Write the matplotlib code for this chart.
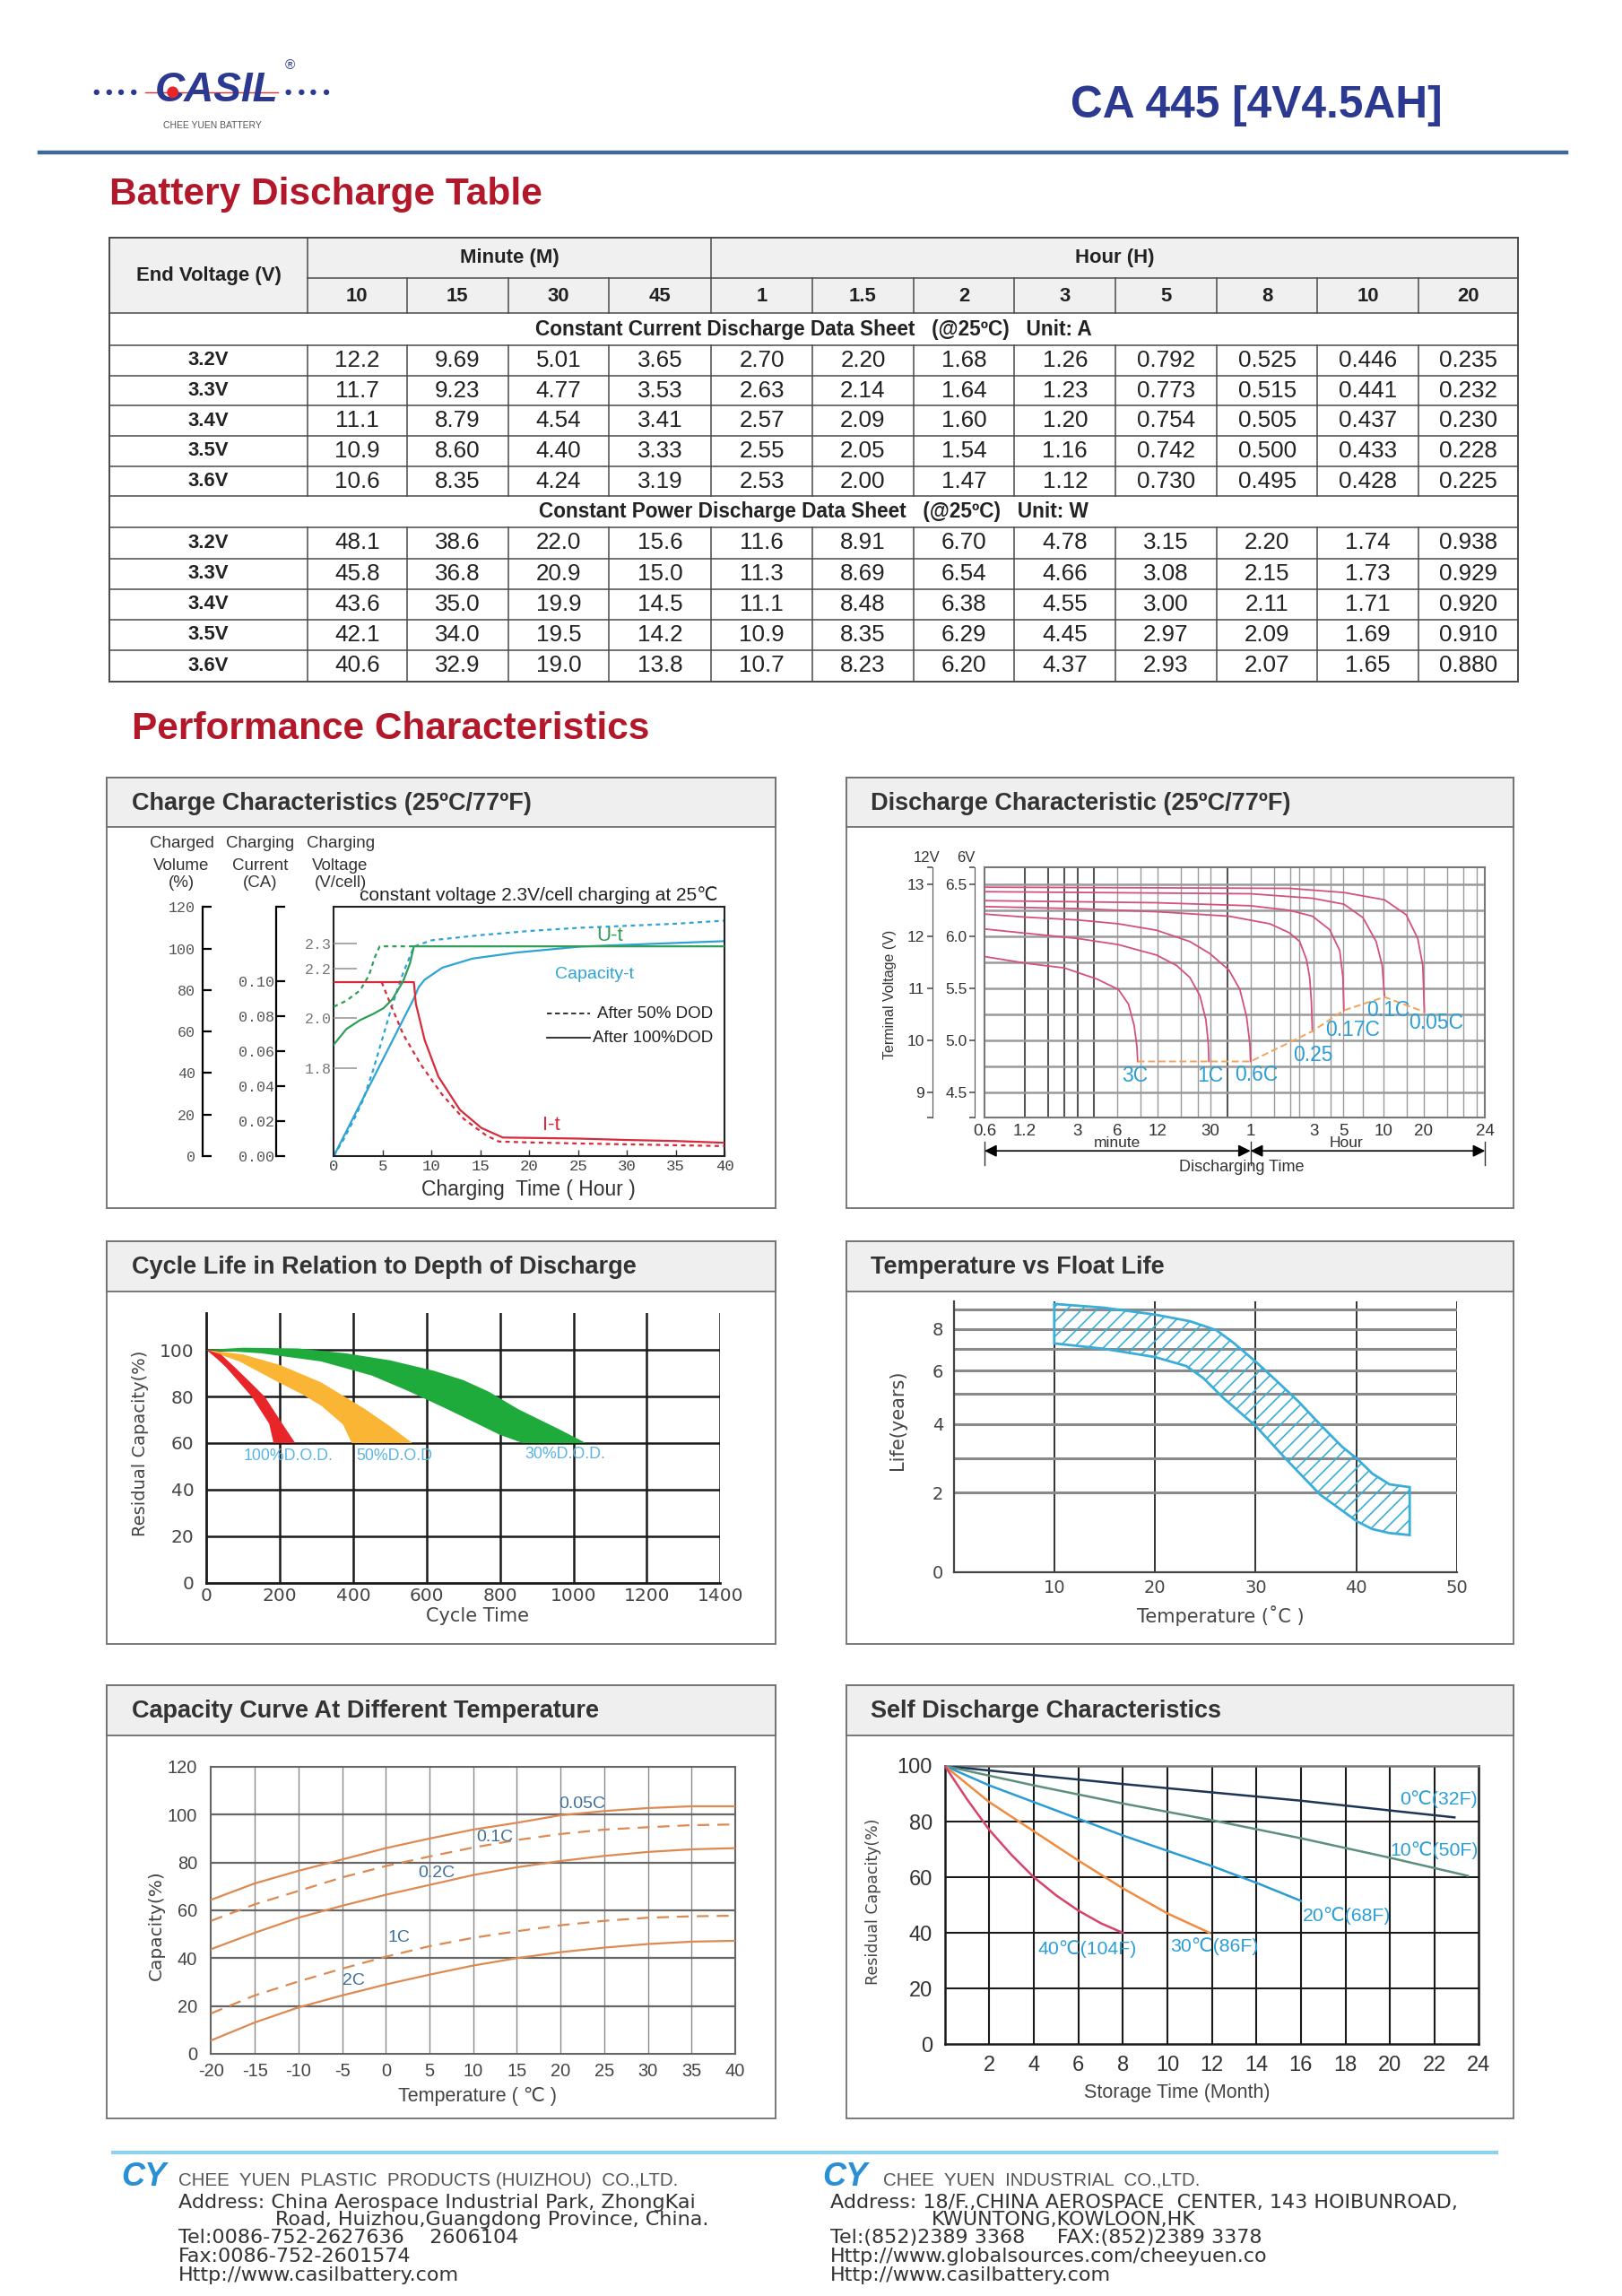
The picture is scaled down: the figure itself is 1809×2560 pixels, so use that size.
import numpy as np
import matplotlib
matplotlib.use('Agg')
import matplotlib.pyplot as plt
from matplotlib import font_manager
from matplotlib.patches import Rectangle, Circle
from matplotlib.ticker import NullLocator

# fonts
names = {f.name for f in font_manager.fontManager.ttflist}
NARROW = 'Liberation Sans Narrow' if 'Liberation Sans Narrow' in names else 'Liberation Sans'
NK = 1.0 if NARROW == 'Liberation Sans Narrow' else 0.85
SANS = ['Liberation Sans', 'DejaVu Sans']
NAR = [NARROW, 'DejaVu Sans']
MONO = ['Liberation Mono', 'DejaVu Sans Mono']
WIDE = ['DejaVu Sans']
plt.rcParams['font.family'] = SANS
plt.rcParams['hatch.linewidth'] = 1.2
plt.rcParams['axes.unicode_minus'] = False

# ---------------- data ----------------
model_name = 'CA 445 [4V4.5AH]'
end_voltages = ['3.2V', '3.3V', '3.4V', '3.5V', '3.6V']
minute_cols = ['10', '15', '30', '45']
hour_cols = ['1', '1.5', '2', '3', '5', '8', '10', '20']
cc_title = 'Constant Current Discharge Data Sheet   (@25ºC)   Unit: A'
cp_title = 'Constant Power Discharge Data Sheet   (@25ºC)   Unit: W'
cc_amps = [
    ['12.2', '9.69', '5.01', '3.65', '2.70', '2.20', '1.68', '1.26', '0.792', '0.525', '0.446', '0.235'],
    ['11.7', '9.23', '4.77', '3.53', '2.63', '2.14', '1.64', '1.23', '0.773', '0.515', '0.441', '0.232'],
    ['11.1', '8.79', '4.54', '3.41', '2.57', '2.09', '1.60', '1.20', '0.754', '0.505', '0.437', '0.230'],
    ['10.9', '8.60', '4.40', '3.33', '2.55', '2.05', '1.54', '1.16', '0.742', '0.500', '0.433', '0.228'],
    ['10.6', '8.35', '4.24', '3.19', '2.53', '2.00', '1.47', '1.12', '0.730', '0.495', '0.428', '0.225'],
]
cp_watts = [
    ['48.1', '38.6', '22.0', '15.6', '11.6', '8.91', '6.70', '4.78', '3.15', '2.20', '1.74', '0.938'],
    ['45.8', '36.8', '20.9', '15.0', '11.3', '8.69', '6.54', '4.66', '3.08', '2.15', '1.73', '0.929'],
    ['43.6', '35.0', '19.9', '14.5', '11.1', '8.48', '6.38', '4.55', '3.00', '2.11', '1.71', '0.920'],
    ['42.1', '34.0', '19.5', '14.2', '10.9', '8.35', '6.29', '4.45', '2.97', '2.09', '1.69', '0.910'],
    ['40.6', '32.9', '19.0', '13.8', '10.7', '8.23', '6.20', '4.37', '2.93', '2.07', '1.65', '0.880'],
]

# charge characteristics
chg_vol_ticks = [0, 20, 40, 60, 80, 100, 120]
chg_cur_ticks = [0.00, 0.02, 0.04, 0.06, 0.08, 0.10]
chg_volt_ticks = [1.8, 2.0, 2.2, 2.3]
cap100_h = [0, 8.2, 8.7, 9.3, 11.1, 14.2, 18.7, 25.3, 32, 40]
cap100 = [0, 76, 81.5, 85, 90.8, 95.2, 98.1, 101, 102.2, 103.6]
cap50_h = [0, 1, 2, 3, 4, 5, 6, 7, 8.2, 10, 15, 20, 25, 30, 35, 40]
cap50 = [0, 8, 17, 27, 41, 57, 73, 87, 101, 104, 106.5, 108.5, 110, 111, 112, 113.5]
cur100_h = [0, 8.2, 8.4, 9.3, 10.7, 12.9, 15.1, 17.3, 20, 25, 30, 35, 40]
cur100 = [0.0995, 0.0995, 0.0872, 0.0664, 0.0455, 0.0265, 0.0161, 0.0106, 0.0104, 0.0100, 0.0092, 0.0086, 0.0076]
cur50_h = [4.9, 5.8, 7.1, 8.9, 11.1, 13.3, 15.6, 16.9, 20, 25, 30, 35, 40]
cur50 = [0.0995, 0.087, 0.0697, 0.0524, 0.0351, 0.0213, 0.0118, 0.0083, 0.0078, 0.0072, 0.0067, 0.0062, 0.0057]
volt100_h = [0, 1.3, 2.7, 4, 5.1, 6, 7.1, 7.8, 8.2, 40]
volt100 = [1.894, 1.957, 1.993, 2.017, 2.041, 2.077, 2.149, 2.222, 2.29, 2.29]
volt50_h = [0, 1.3, 2.7, 3.6, 4.2, 4.7, 8.2]
volt50 = [2.047, 2.071, 2.113, 2.173, 2.246, 2.29, 2.29]

# discharge characteristic (time in minutes, volts per 6V)
dis_labels = ['3C', '1C', '0.6C', '0.25', '0.17C', '0.1C', '0.05C']
dis_min = [
    [0.6, 1.22, 2.39, 4.2, 6.1, 7.25, 8.0, 8.4, 8.5],
    [0.6, 1.22, 3.06, 6.1, 11.8, 16.7, 21.0, 25.0, 27.7, 28.9, 29.2],
    [0.6, 1.22, 3.06, 6.1, 11.8, 21.0, 29.7, 41.3, 49.9, 56.0, 59.3, 60.0],
    [0.6, 3.06, 11.8, 41.3, 83.8, 117, 140.6, 158, 167, 172, 175],
    [0.6, 11.8, 60, 117, 175, 236, 281, 297, 302],
    [0.6, 60, 175, 302, 420, 528, 586, 610],
    [0.6, 117, 302, 610, 887, 1084, 1183, 1216],
]
dis_volt = [
    [5.806, 5.742, 5.697, 5.59, 5.49, 5.35, 5.146, 4.945, 4.80],
    [6.07, 6.03, 5.978, 5.92, 5.82, 5.72, 5.605, 5.43, 5.20, 4.97, 4.80],
    [6.213, 6.184, 6.156, 6.12, 6.058, 5.95, 5.834, 5.676, 5.49, 5.23, 4.97, 4.80],
    [6.285, 6.265, 6.236, 6.193, 6.12, 6.035, 5.95, 5.777, 5.605, 5.375, 5.09],
    [6.342, 6.322, 6.293, 6.25, 6.193, 6.064, 5.863, 5.605, 5.29],
    [6.428, 6.408, 6.365, 6.308, 6.179, 5.949, 5.72, 5.418],
    [6.471, 6.46, 6.42, 6.35, 6.207, 5.978, 5.72, 5.275],
]
dis_lab_min = [8.1, 29.7, 66.5, 177, 353, 646, 1489]
dis_lab_volt = [4.658, 4.658, 4.672, 4.864, 5.10, 5.29, 5.17]
cut_min = [8.5, 60, 175, 302, 610, 1216]
cut_volt = [4.80, 4.80, 5.09, 5.29, 5.418, 5.275]
dis_grid_min = [1.2, 1.8, 2.4, 3, 4, 6, 9, 12, 18, 24, 30, 40, 60, 90, 120, 140, 180,
                240, 300, 420, 600, 900, 1200, 1800, 2400, 3000]
dis_dark_min = [1.2, 1.8, 2.4, 3, 4, 40]
dis_grid_volt = [4.5, 4.75, 5.0, 5.25, 5.5, 5.75, 6.0, 6.25, 6.5]
dis_tick_min = [0.6, 1.2, 3, 6, 12, 30, 60, 180, 300, 600, 1200, 3480]
dis_tick_lab = ['0.6', '1.2', '3', '6', '12', '30', '1', '3', '5', '10', '20', '24']
v6_ticks = [4.5, 5.0, 5.5, 6.0, 6.5]
v12_ticks = [9, 10, 11, 12, 13]

# cycle life bands (outer edge, inner edge)
red_out_x = [0, 40, 76.8, 120, 159.5, 206.8, 242]
red_out_y = [100, 98, 92.6, 86, 79.8, 68.3, 60]
red_in_x = [0, 30, 53, 90, 124, 171, 183]
red_in_y = [100, 96, 92.6, 86, 79.8, 68.3, 60]
org_out_x = [0, 100, 200, 313, 431, 502, 561]
org_out_y = [100, 98, 93.5, 86, 74.7, 67, 60]
org_in_x = [0, 90, 195, 260, 313, 372, 396]
org_in_y = [100, 95, 86.2, 81, 76, 68, 60]
grn_out_x = [0, 100, 250, 380, 500, 620, 700, 770, 850, 960, 1034]
grn_out_y = [100, 100.9, 100.6, 98.5, 95.5, 91, 87, 82, 74.5, 66, 60]
grn_in_x = [0, 150, 313, 450, 549, 650, 738, 800, 862]
grn_in_y = [100, 98.5, 95, 89, 82.4, 75, 68.3, 63.5, 60]
dod_labels = ['100%D.O.D.', '50%D.O.D', '30%D.O.D.']
dod_lab_x = [100, 408, 868]
dod_lab_y = [54.3, 54.3, 55]

# temperature vs float life
float_T_up = [10, 14.9, 20, 23.5, 26.1, 27.8, 30, 32.1, 34.3, 36.4, 38.6, 40.1, 41.6, 43.3, 45.3]
float_up = [9.27, 9.08, 8.73, 8.39, 7.94, 7.30, 6.41, 5.55, 4.73, 3.98, 3.33, 2.98, 2.55, 2.24, 2.16]
float_T_lo = [10, 14.9, 20, 23.1, 24.8, 26.9, 30, 33, 36.4, 40.1, 41.6, 43.3, 45.3]
float_lo = [7.27, 7.0, 6.62, 6.21, 5.68, 4.83, 3.94, 2.98, 1.95, 1.27, 1.08, 0.98, 0.93]
life_knots = [0, 2, 3, 4, 5, 6, 7, 8, 9, 10]
life_pos = [0, 265, 380, 495, 595, 673, 746, 812, 878, 944]

# capacity vs temperature
cap_T = [-20, -15, -10, -5, 0, 5, 10, 15, 20, 25, 30, 35, 40]
cap_rates = ['0.05C', '0.1C', '0.2C', '1C', '2C']
cap_vals = [
    [64.4, 71.25, 76.5, 81.25, 86, 90, 93.75, 96.6, 99.75, 101.5, 102.75, 103.5, 103.5],
    [55.6, 62.5, 68.1, 73.75, 78.5, 82.5, 86.25, 89.4, 91.9, 93.75, 94.75, 95.6, 95.9],
    [43.75, 50.6, 56.9, 61.9, 66.5, 70.6, 74.75, 78, 80.6, 82.75, 84.4, 85.5, 86],
    [16.9, 24.4, 30.25, 35.6, 40.6, 45, 48.5, 51.25, 53.75, 55.6, 56.9, 57.5, 57.75],
    [5.6, 13.1, 19.4, 24.4, 29, 33.1, 36.9, 40, 42.5, 44.4, 45.9, 46.9, 47.25],
]
cap_dashed = [False, True, False, True, False]
cap_lab_T = [22.45, 12.5, 5.76, 1.5, -3.7]
cap_lab_v = [104.4, 90.6, 75.6, 48.4, 30.6]

# self discharge
sd_labels = ['0℃(32F)', '10℃(50F)', '20℃(68F)', '30℃(86F)', '40℃(104F)']
sd_month = [
    [0, 4, 8, 12, 16, 20, 22.9],
    [0, 4, 8, 12, 16, 20, 23.5],
    [0, 2, 4, 6, 8, 10, 12, 14, 16],
    [0, 2, 4, 6, 8, 10, 11.9],
    [0, 1, 2, 3, 4, 5, 6, 7, 8],
]
sd_cap = [
    [100, 96.7, 93.5, 90.5, 87.5, 84, 81.5],
    [100, 93, 86.5, 80.5, 74, 67, 60.5],
    [100, 93, 87, 81, 75, 69.5, 64, 58, 51.5],
    [100, 87, 76.5, 66, 56, 47, 40],
    [100, 88, 77, 68, 60, 53.5, 48, 43.5, 40],
]
sd_colors = ['#1d3656', '#5e8f7c', '#2b9bd6', '#ef8c40', '#d8436a']
sd_lab_x = [22.2, 22.0, 18.07, 12.1, 6.42]
sd_lab_y = [87.9, 69.6, 46, 35.2, 34.2]

# ---------------- figure ----------------
W, H = 1108.0, 1568.0
fig = plt.figure(figsize=(18.09, 25.60), dpi=100)
bg = fig.add_axes([0, 0, 1, 1])
bg.set_xlim(0, W)
bg.set_ylim(H, 0)
bg.axis('off')


def place(x0, y0, x1, y1):
    return fig.add_axes([x0 / W, 1 - y1 / H, (x1 - x0) / W, (y1 - y0) / H], facecolor='none')


def mid(a, b):
    return (a + b) / 2.0


BLUE_DARK = '#2b3990'
RED_T = '#b3182a'
TXT = '#333333'
GRAYT = '#444444'

# header / logo
for xd in [66, 74.6, 82.7, 91.4, 197, 206, 214, 223]:
    bg.add_patch(Circle((xd, 63), 1.5, color=BLUE_DARK, zorder=2))
bg.plot([99, 190], [63, 63], color='#e03030', lw=1.0, zorder=2)
bg.text(148, 62, 'CASIL', fontsize=33, fontweight='bold', fontstyle='italic', color=BLUE_DARK,
        ha='center', va='center', zorder=3)
bg.add_patch(Circle((118, 63), 3.5, color='#e8262a', zorder=4))
bg.text(198, 45, '®', fontsize=11, color=BLUE_DARK, ha='center', va='center')
bg.text(145, 86, 'CHEE YUEN BATTERY', fontsize=7.5, color='#555555', ha='center', va='center', family=NAR)
bg.text(985, 72, model_name, fontsize=42 * NK, fontweight='bold', color=BLUE_DARK,
        ha='right', va='center', family=NAR)
bg.plot([27, 1070], [104, 104], color='#3f6a94', lw=3.2)

bg.text(75, 133, 'Battery Discharge Table', fontsize=30.5, fontweight='bold', color=RED_T, va='center')
bg.text(90, 498, 'Performance Characteristics', fontsize=30.5, fontweight='bold', color=RED_T, va='center')

# table
cx = [75, 210, 278, 347, 416, 486, 555, 624, 693, 762, 831, 900, 969, 1037]
ry = [162.3, 189.9, 214, 235.8, 256.6, 277, 297.6, 318.5, 338.9, 360.3, 381.4, 402.2, 423, 444, 465.5]
lc = '#4a4a4a'
bg.add_patch(Rectangle((cx[0], ry[0]), cx[-1] - cx[0], ry[2] - ry[0], facecolor='#f0f0f0',
                       edgecolor='none', zorder=0))
for i, yv in enumerate(ry):
    xs = cx[1] if i == 1 else cx[0]
    bg.plot([xs, cx[-1]], [yv, yv], color=lc, lw=1.4 if i in (0, 14) else 1.1)
for j, xv in enumerate(cx):
    if j in (0, len(cx) - 1):
        bg.plot([xv, xv], [ry[0], ry[-1]], color=lc, lw=1.4)
        continue
    top = ry[0] if j in (1, 5) else ry[1]
    bg.plot([xv, xv], [top, ry[2]], color=lc, lw=1.1)
    for a, b in [(ry[3], ry[8]), (ry[9], ry[14])]:
        bg.plot([xv, xv], [a, b], color=lc, lw=1.1)

hdr = dict(fontsize=18.8 * NK, fontweight='bold', color='#222222', ha='center', va='center', family=NAR)
sec = dict(hdr, fontsize=19.2 * NK)
bg.text(mid(cx[0], cx[1]), mid(ry[0], ry[2]), 'End Voltage (V)', **hdr)
bg.text(mid(cx[1], cx[5]), mid(ry[0], ry[1]), 'Minute (M)', **hdr)
bg.text(mid(cx[5], cx[13]), mid(ry[0], ry[1]), 'Hour (H)', **hdr)
for j, lab in enumerate(minute_cols + hour_cols):
    bg.text(mid(cx[j + 1], cx[j + 2]), mid(ry[1], ry[2]) + 0.5, lab, **hdr)
bg.text(mid(cx[0], cx[-1]), mid(ry[2], ry[3]), cc_title, **sec)
bg.text(mid(cx[0], cx[-1]), mid(ry[8], ry[9]), cp_title, **sec)
num = dict(fontsize=22 * NK, color='#222222', ha='center', va='center', family=NAR)
for block, rows in ((3, cc_amps), (9, cp_watts)):
    for i, v in enumerate(end_voltages):
        yc = mid(ry[block + i], ry[block + i + 1])
        bg.text(mid(cx[0], cx[1]), yc, v, **hdr)
        for j, s in enumerate(rows[i]):
            bg.text(mid(cx[j + 1], cx[j + 2]), yc, s, **num)

# panels
panels = [(73, 531, 530, 825, 'Charge Characteristics (25ºC/77ºF)'),
          (578, 531, 1034, 825, 'Discharge Characteristic (25ºC/77ºF)'),
          (73, 848, 530, 1123, 'Cycle Life in Relation to Depth of Discharge'),
          (578, 848, 1034, 1123, 'Temperature vs Float Life'),
          (73, 1151, 530, 1447, 'Capacity Curve At Different Temperature'),
          (578, 1151, 1034, 1447, 'Self Discharge Characteristics')]
for x0, y0, x1, y1, title in panels:
    bg.add_patch(Rectangle((x0, y0), x1 - x0, y1 - y0, facecolor='white', edgecolor='#6e6e6e', lw=1.3, zorder=0.5))
    bg.add_patch(Rectangle((x0, y0), x1 - x0, 34, facecolor='#efefef', edgecolor='#6e6e6e', lw=1.3, zorder=0.6))
    bg.text(x0 + 17, y0 + 17.5, title, fontsize=23 * NK, fontweight='bold', color=TXT, va='center',
            family=NAR, zorder=1)

# ---------- Charge characteristics ----------
GREEN = '#2f9e57'
TEAL = '#2ea3d5'
RED = '#d52b3a'
box1 = (228, 619.5, 495, 789.5)
axC = place(*box1)
axC.set_xlim(0, 40)
axC.set_ylim(0, 120)
for s in axC.spines.values():
    s.set_color('#222222')
    s.set_linewidth(1.5)
axC.set_xticks(range(0, 41, 5))
axC.set_yticks([])
axC.tick_params(axis='x', direction='in', length=5, width=1, colors='#333333', labelsize=12.5, pad=3,
                labelcolor='#444444')
for lab in axC.get_xticklabels():
    lab.set_family(MONO)
axC.plot(cap100_h, cap100, color=TEAL, lw=1.6)
axC.plot(cap50_h, cap50, color=TEAL, lw=1.6, ls=(0, (2.2, 2)))
dash = (0, (3, 2))
axC.plot([0.545, 0.655], [0.572, 0.572], transform=axC.transAxes, color='#222222', lw=1.3, ls=dash)
axC.plot([0.545, 0.655], [0.475, 0.475], transform=axC.transAxes, color='#222222', lw=1.3)
axC.text(0.675, 0.572, 'After 50% DOD', transform=axC.transAxes, fontsize=13.5, va='center', color='#222222')
axC.text(0.663, 0.475, 'After 100%DOD', transform=axC.transAxes, fontsize=13.5, va='center', color='#222222')
axC.text(0.706, 0.884, 'U-t', transform=axC.transAxes, fontsize=16, ha='center', va='center', color=GREEN)
axC.text(0.567, 0.728, 'Capacity-t', transform=axC.transAxes, fontsize=14, ha='left', va='center', color=TEAL)
axC.text(0.556, 0.124, 'I-t', transform=axC.transAxes, fontsize=16, ha='center', va='center', color=RED)

axVol = place(*box1)
axVol.set_ylim(0, 120)
axVol.set_yticks(chg_vol_ticks)
axVol.set_xticks([])
for k in ['right', 'top', 'bottom']:
    axVol.spines[k].set_visible(False)
axVol.spines['left'].set_position(('outward', 105))
axVol.spines['left'].set_linewidth(1.6)
axVol.tick_params(axis='y', direction='in', length=7, width=1.6, labelsize=12, labelcolor='#555555', pad=6)
for lab in axVol.get_yticklabels():
    lab.set_family(MONO)

axI = place(*box1)
axI.set_ylim(0, 0.1424)
axI.set_yticks(chg_cur_ticks + [0.1424])
axI.set_yticklabels(['%.2f' % v for v in chg_cur_ticks] + [''])
axI.set_xticks([])
for k in ['right', 'top', 'bottom']:
    axI.spines[k].set_visible(False)
axI.spines['left'].set_position(('outward', 46))
axI.spines['left'].set_linewidth(1.6)
axI.tick_params(axis='y', direction='in', length=7, width=1.6, labelsize=12, labelcolor='#555555', pad=2)
for lab in axI.get_yticklabels():
    lab.set_family(MONO)
axI.plot(cur100_h, cur100, color=RED, lw=1.6)
axI.plot(cur50_h, cur50, color=RED, lw=1.6, ls=(0, (2.2, 2)))
axI.set_xlim(0, 40)

axU = place(*box1)
axU.set_ylim(1.445, 2.448)
axU.set_xlim(0, 40)
axU.set_yticks(chg_volt_ticks)
axU.set_yticklabels(['%.1f' % v for v in chg_volt_ticks])
axU.set_xticks([])
for s in axU.spines.values():
    s.set_visible(False)
axU.tick_params(axis='y', direction='in', length=19, width=1.2, color='#999999', labelsize=12,
                labelcolor='#777777', pad=2)
for lab in axU.get_yticklabels():
    lab.set_family(MONO)
axU.plot(volt100_h, volt100, color=GREEN, lw=1.6)
axU.plot(volt50_h, volt50, color=GREEN, lw=1.6, ls=(0, (2.2, 2)))

small = dict(fontsize=13.5, color=TXT, ha='center', va='center')
for xc, lines in [(124, ['Charged', 'Volume', '(%)']), (177.7, ['Charging', 'Current', '(CA)']),
                  (232.5, ['Charging', 'Voltage', '(V/cell)'])]:
    for yv, s in zip([576.3, 591.2, 603.3], lines):
        bg.text(xc, yv, s, **small)
bg.text(367.7, 611.4, 'constant voltage 2.3V/cell charging at 25℃', fontsize=15, color='#222222',
        ha='center', va='center', family=SANS)
bg.text(361, 812.7, 'Charging  Time ( Hour )', fontsize=16.5, color=TXT, ha='center', va='center')

# ---------- Discharge characteristic ----------
PINK = '#d4507e'
LBLUE = '#2a9fd6'
box2 = (672.5, 592, 1014.5, 763.2)
axD = place(*box2)
axD.set_xscale('log')
axD.set_xlim(0.6, 3480)
axD.set_ylim(4.262, 6.666)
for v in dis_grid_min:
    dark = v in dis_dark_min
    axD.axvline(v, color='#555555' if dark else '#9a9a9a', lw=1.5 if dark else 1.0, zorder=1)
for v in dis_grid_volt:
    axD.axhline(v, color='#9a9a9a', lw=1.8, zorder=1)
for s in axD.spines.values():
    s.set_color('#777777')
    s.set_linewidth(1.5)
axD.set_xticks(dis_tick_min)
axD.set_xticklabels(dis_tick_lab)
axD.xaxis.set_minor_locator(NullLocator())
axD.set_yticks([])
axD.tick_params(axis='x', length=0, pad=5, labelsize=13.5, labelcolor='#333333')
for xs, ys in zip(dis_min, dis_volt):
    axD.plot(xs, ys, color=PINK, lw=1.3, zorder=3)
axD.plot(cut_min, cut_volt, color='#f2a45a', lw=1.4, ls=(0, (4, 2)), zorder=3)
for lab, xm, yv in zip(dis_labels, dis_lab_min, dis_lab_volt):
    axD.text(xm, yv, lab, color=LBLUE, fontsize=16.5, ha='center', va='center', zorder=4)

ax6 = place(*box2)
ax6.set_ylim(4.262, 6.666)
ax6.set_yticks(v6_ticks + [4.262, 6.666])
ax6.set_yticklabels(['%.1f' % v for v in v6_ticks] + ['', ''])
ax6.set_xticks([])
for k in ['right', 'top', 'bottom']:
    ax6.spines[k].set_visible(False)
ax6.spines['left'].set_position(('outward', 8))
ax6.spines['left'].set_color('#555555')
ax6.tick_params(axis='y', direction='out', length=4, width=1.2, color='#555555', labelsize=12.5,
                labelcolor='#333333', pad=2)

ax12 = place(*box2)
ax12.set_ylim(8.524, 13.332)
ax12.set_yticks(v12_ticks + [8.524, 13.332])
ax12.set_yticklabels([str(v) for v in v12_ticks] + ['', ''])
ax12.set_xticks([])
for k in ['right', 'top', 'bottom']:
    ax12.spines[k].set_visible(False)
ax12.spines['left'].set_position(('outward', 42))
ax12.spines['left'].set_color('#555555')
ax12.tick_params(axis='y', direction='out', length=4, width=1.2, color='#555555', labelsize=12.5,
                 labelcolor='#333333', pad=2)

arrow_kw = dict(arrowstyle='<|-|>', color='black', lw=1.2, mutation_scale=20, shrinkA=0, shrinkB=0)
axD.annotate('', xy=(0.6, -0.133), xytext=(60, -0.133), xycoords=('data', 'axes fraction'),
             textcoords=('data', 'axes fraction'), arrowprops=arrow_kw, annotation_clip=False)
axD.annotate('', xy=(60, -0.133), xytext=(3480, -0.133), xycoords=('data', 'axes fraction'),
             textcoords=('data', 'axes fraction'), arrowprops=arrow_kw, annotation_clip=False)
for xm in (0.6, 60, 3480):
    axD.plot([xm, xm], [-0.096, -0.19], transform=axD.get_xaxis_transform(), clip_on=False,
             color='#333333', lw=1.0)
axD.text(6, -0.127, 'minute', transform=axD.get_xaxis_transform(), ha='center', va='bottom',
         fontsize=12.5, color=TXT)
axD.text(0.723, -0.127, 'Hour', transform=axD.transAxes, ha='center', va='bottom', fontsize=12.5, color=TXT)
axD.text(0.513, -0.2, 'Discharging Time', transform=axD.transAxes, ha='center', va='center',
         fontsize=13, color=TXT)
bg.text(633, 586, '12V', fontsize=12, color=TXT, ha='center', va='center')
bg.text(660, 586, '6V', fontsize=12, color=TXT, ha='center', va='center')
bg.text(608, 679, 'Terminal Voltage (V)', fontsize=11.5, color=TXT, ha='center', va='center', rotation=90)

# ---------- Cycle life ----------
axL = place(141, 897, 492, 1081)
axL.set_xlim(0, 1400)
axL.set_ylim(0, 115.6)
for x in range(200, 1401, 200):
    axL.axvline(x, color='#1a1a1a', lw=1.8, zorder=1)
for y in range(20, 101, 20):
    axL.axhline(y, color='#1a1a1a', lw=1.8, zorder=1)
for k in ['top', 'right']:
    axL.spines[k].set_visible(False)
for k in ['left', 'bottom']:
    axL.spines[k].set_linewidth(2)
    axL.spines[k].set_color('#1a1a1a')
axL.set_xticks(range(0, 1401, 200))
axL.set_yticks(range(0, 101, 20))
axL.tick_params(length=0, labelsize=14.5, labelcolor='#444444')
axL.tick_params(axis='y', pad=10)
axL.tick_params(axis='x', pad=4)
for lab in axL.get_xticklabels() + axL.get_yticklabels():
    lab.set_family(WIDE)
axL.fill(grn_out_x + grn_in_x[::-1], grn_out_y + grn_in_y[::-1], color='#1faa3c', lw=0, zorder=3)
axL.fill(org_out_x + org_in_x[::-1], org_out_y + org_in_y[::-1], color='#fbb534', lw=0, zorder=3)
axL.fill(red_out_x + red_in_x[::-1], red_out_y + red_in_y[::-1], color='#e8262a', lw=0, zorder=3)
for lab, xv, yv in zip(dod_labels, dod_lab_x, dod_lab_y):
    axL.text(xv, yv, lab, color='#5ab4e0', fontsize=15 * NK, ha='left', va='center', family=NAR, zorder=4)
bg.text(95.6, 986, 'Residual Capacity(%)', fontsize=14, color=GRAYT, ha='center', va='center',
        rotation=90, family=WIDE)
bg.text(326, 1104, 'Cycle Time', fontsize=15, color=GRAYT, ha='center', va='center', family=WIDE)

# ---------- Temperature vs float life ----------
FBLUE = '#3aaed8'
axT = place(651.4, 889, 995.3, 1073.5)
axT.set_yscale('function', functions=(lambda v: np.interp(v, life_knots, life_pos),
                                      lambda p: np.interp(p, life_pos, life_knots)))
axT.set_xlim(0, 50)
axT.set_ylim(0, 9.38)
for t in [10, 20, 30, 40, 50]:
    axT.axvline(t, color='#222222', lw=1.3, zorder=1)
for v in [2, 3, 4, 5, 6, 7, 8, 9]:
    axT.axhline(v, color='#8a8a8a', lw=2.2, zorder=1)
for k in ['top', 'right']:
    axT.spines[k].set_visible(False)
for k in ['left', 'bottom']:
    axT.spines[k].set_linewidth(1.6)
    axT.spines[k].set_color('#444444')
axT.set_xticks([10, 20, 30, 40, 50])
axT.set_yticks([0, 2, 4, 6, 8])
axT.set_yticklabels(['0', '2', '4', '6', '8'])
axT.yaxis.set_minor_locator(NullLocator())
axT.tick_params(length=0, labelsize=14, labelcolor=GRAYT)
axT.tick_params(axis='y', pad=8)
axT.tick_params(axis='x', pad=6)
for lab in axT.get_xticklabels() + axT.get_yticklabels():
    lab.set_family(WIDE)
axT.fill(float_T_up + float_T_lo[::-1], float_up + float_lo[::-1], facecolor='none', edgecolor=FBLUE,
         hatch='//', lw=2, zorder=3)
bg.text(613, 969.5, 'Life(years)', fontsize=15, color=GRAYT, ha='center', va='center', rotation=90,
        family=WIDE)
bg.text(833.6, 1103.5, 'Temperature (˚C )', fontsize=15, color=GRAYT, ha='center', va='center',
        family=WIDE)

# ---------- Capacity vs temperature ----------
ORANGE = '#dd8a52'
axK = place(144.2, 1206.6, 502.3, 1402.6)
axK.set_xlim(-20, 40)
axK.set_ylim(0, 120)
for t in range(-15, 40, 5):
    axK.axvline(t, color='#8a8a8a', lw=1.0, zorder=1)
for v in range(20, 120, 20):
    axK.axhline(v, color='#666666', lw=1.6, zorder=1)
for s in axK.spines.values():
    s.set_color('#666666')
    s.set_linewidth(1.5)
axK.set_xticks(range(-20, 41, 5))
axK.set_yticks(range(0, 121, 20))
axK.tick_params(length=0, labelsize=17 * NK, labelcolor=GRAYT)
axK.tick_params(axis='y', pad=11)
axK.tick_params(axis='x', pad=7)
for lab in axK.get_xticklabels() + axK.get_yticklabels():
    lab.set_family(NAR)
for vals, dsh in zip(cap_vals, cap_dashed):
    axK.plot(cap_T, vals, color=ORANGE, lw=1.6, ls=(0, (6, 4)) if dsh else '-', zorder=3)
for lab, tv, cv in zip(cap_rates, cap_lab_T, cap_lab_v):
    axK.text(tv, cv, lab, color='#3f6f98', fontsize=16.5 * NK, ha='center', va='center', family=NAR, zorder=4)
bg.text(107, 1314.8, 'Capacity(%)', fontsize=14.5, color=GRAYT, ha='center', va='center', rotation=90,
        family=WIDE)
bg.text(326, 1432, 'Temperature ( ℃ )', fontsize=15.5, color=GRAYT, ha='center', va='center',
        family=SANS)

# ---------- Self discharge ----------
axS = place(645.4, 1206, 1010.3, 1396)
axS.set_xlim(0, 24)
axS.set_ylim(0, 100)
for m in range(2, 24, 2):
    axS.axvline(m, color='#1a1a1a', lw=1.5, zorder=1)
for v in range(20, 100, 20):
    axS.axhline(v, color='#1a1a1a', lw=1.5, zorder=1)
for s in axS.spines.values():
    s.set_color('#1a1a1a')
    s.set_linewidth(1.8)
axS.spines['top'].set_color('#777777')
axS.set_xticks(range(2, 25, 2))
axS.set_yticks(range(0, 101, 20))
axS.tick_params(length=0, labelsize=17, labelcolor=TXT)
axS.tick_params(axis='y', pad=10)
axS.tick_params(axis='x', pad=9)
for xs, ys, c in zip(sd_month, sd_cap, sd_colors):
    axS.plot(xs, ys, color=c, lw=1.8, zorder=3)
for lab, xv, yv in zip(sd_labels, sd_lab_x, sd_lab_y):
    axS.text(xv, yv, lab, color=LBLUE, fontsize=18 * NK, ha='center', va='center', family=NAR, zorder=4)
bg.text(596.5, 1298.5, 'Residual Capacity(%)', fontsize=12.5, color=GRAYT, ha='center', va='center',
        rotation=90, family=WIDE)
bg.text(804, 1429, 'Storage Time (Month)', fontsize=15.5, color=GRAYT, ha='center', va='center',
        family=SANS)

# ---------- footer ----------
bg.plot([77, 1022], [1470, 1470], color='#8fd0ef', lw=3)
for xl in (98, 577):
    bg.text(xl, 1487, 'CY', fontsize=26, fontweight='bold', fontstyle='italic', color='#2a8fd4',
            ha='center', va='center')
foot = dict(fontsize=16, color='#333333', va='center', family=WIDE)
bg.text(122, 1489, 'CHEE  YUEN  PLASTIC  PRODUCTS (HUIZHOU)  CO.,LTD.', fontsize=14.8,
        color='#555555', va='center', family=NAR)
bg.text(603, 1489, 'CHEE  YUEN  INDUSTRIAL  CO.,LTD.', fontsize=14.8, color='#555555',
        va='center', family=NAR)
foot_lines = [(122, 1504, 'Address: China Aerospace Industrial Park, ZhongKai'),
              (188, 1516, 'Road, Huizhou,Guangdong Province, China.'),
              (122, 1528, 'Tel:0086-752-2627636    2606104'),
              (122, 1541, 'Fax:0086-752-2601574'),
              (122, 1554, 'Http://www.casilbattery.com'),
              (567, 1504, 'Address: 18/F.,CHINA AEROSPACE  CENTER, 143 HOIBUNROAD,'),
              (636, 1516, 'KWUNTONG,KOWLOON,HK'),
              (567, 1528, 'Tel:(852)2389 3368     FAX:(852)2389 3378'),
              (567, 1541, 'Http://www.globalsources.com/cheeyuen.co'),
              (567, 1554, 'Http://www.casilbattery.com')]
for xv, yv, s in foot_lines:
    bg.text(xv, yv, s, **foot)

fig.savefig('out.png', dpi=100)
